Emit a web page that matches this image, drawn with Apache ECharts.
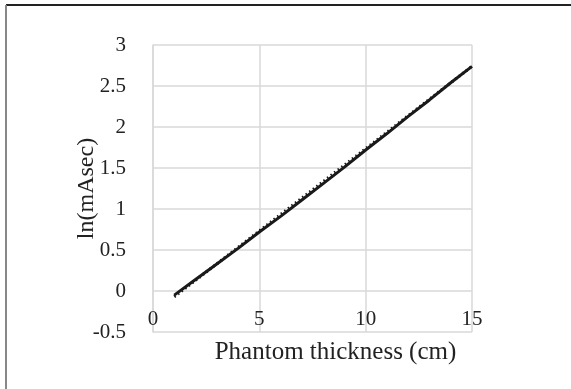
<!DOCTYPE html>
<html>
<head>
<meta charset="utf-8">
<script src="https://cdn.jsdelivr.net/npm/echarts@6/dist/echarts.min.js"></script>
<style>
    html, body { margin: 0; padding: 0; background: #fff; }
    #chart { width: 571px; height: 389px; }
</style>
</head>
<body>
<div id="chart"></div>
<script>
// phantom thickness (cm) vs ln(mAsec)
var thickness = [1, 2, 3, 4, 5, 6, 7, 8, 9, 10, 11, 12, 13, 14, 15];
var lnMAsec = [-0.05, 0.14, 0.33, 0.52, 0.72, 0.91, 1.11, 1.31, 1.51, 1.72, 1.92, 2.13, 2.33, 2.54, 2.74];
// linear trendline ends
var trendX = [1, 15];
var trendY = [-0.07, 2.74];

var serif = 'Liberation Serif';
var gridColor = '#d9d9d9';

function pairs(xs, ys) {
    var out = [];
    for (var i = 0; i < xs.length; i++) {
        out.push([xs[i], ys[i]]);
    }
    return out;
}

var myChart = echarts.init(document.getElementById('chart'), null, {renderer: 'canvas'});
myChart.setOption({
    animation: false,
    backgroundColor: '#fff',
    grid: {
        left: 153,
        right: 99,
        top: 45,
        bottom: 57,
        containLabel: false,
        outerBoundsMode: 'none'
    },
    xAxis: {
        type: 'value',
        min: 0,
        max: 15,
        interval: 5,
        name: 'Phantom thickness (cm)',
        nameLocation: 'middle',
        nameGap: 8,
        nameMoveOverlap: false,
        nameTextStyle: {
            fontFamily: serif,
            fontSize: 25,
            color: '#222',
            verticalAlign: 'top',
            padding: [0, 0, 0, 46]
        },
        axisLine: {show: false, onZero: false},
        axisTick: {show: false},
        // labels sit under the y=0 line, as in the original
        axisLabel: {
            margin: -23,
            fontFamily: serif,
            fontSize: 21,
            color: '#222'
        },
        splitLine: {show: true, lineStyle: {color: gridColor, width: 1.5}}
    },
    yAxis: {
        type: 'value',
        min: -0.5,
        max: 3,
        interval: 0.5,
        name: 'ln(mAsec)',
        nameLocation: 'middle',
        nameGap: 54,
        nameMoveOverlap: false,
        nameTextStyle: {
            fontFamily: serif,
            fontSize: 24,
            color: '#222'
        },
        axisLine: {show: true, lineStyle: {color: gridColor, width: 1.5}},
        axisTick: {show: false},
        axisLabel: {
            margin: 27,
            fontFamily: serif,
            fontSize: 21,
            color: '#222'
        },
        splitLine: {show: true, lineStyle: {color: gridColor, width: 1.5}}
    },
    series: [
        {
            name: 'ln(mAsec)',
            type: 'line',
            data: pairs(thickness, lnMAsec),
            showSymbol: false,
            lineStyle: {color: '#1a1a1a', width: 3}
        },
        {
            name: 'Linear',
            type: 'line',
            data: pairs(trendX, trendY),
            showSymbol: false,
            lineStyle: {color: '#1a1a1a', width: 3, type: [1.5, 3]}
        }
    ],
    graphic: [
        {
            type: 'line',
            shape: {x1: 6, y1: 5, x2: 571, y2: 5},
            style: {stroke: '#222', lineWidth: 2}
        },
        {
            type: 'line',
            shape: {x1: 6, y1: 5, x2: 6, y2: 389},
            style: {stroke: '#888', lineWidth: 2}
        }
    ]
});
</script>
</body>
</html>
